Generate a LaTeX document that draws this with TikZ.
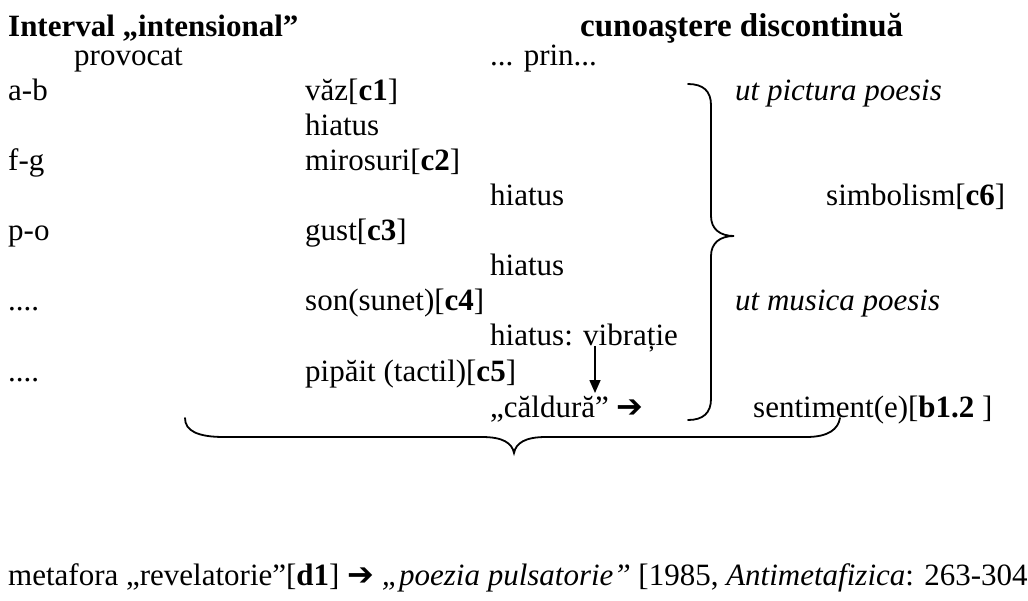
\documentclass[tikz,border=0pt]{standalone}
\usepackage{fontspec}
\setmainfont{Liberation Serif}
\newfontfamily\arrowfont{DejaVu Sans}
\usetikzlibrary{arrows.meta}
\newcommand{\bigarrow}{{\arrowfont\bfseries\fontsize{32}{34}\selectfont ➔}}
\begin{document}
\begin{tikzpicture}[x=1pt,y=-1pt,
  txt/.style={anchor=base west,inner sep=0pt,font=\fontsize{31}{36}\selectfont},
  ttl/.style={anchor=base west,inner sep=0pt,font=\fontsize{31}{36}\selectfont\bfseries},
  itx/.style={anchor=base west,inner sep=0pt,font=\fontsize{31}{36}\selectfont\itshape},
  bracestyle/.style={line width=1.8pt,line cap=round},
  vconn/.style={line width=1.6pt,-{Triangle[length=13pt,width=11pt]}}]
\useasboundingbox (0,0) rectangle (1028,600);
% titles
\node[ttl] (t1) at (8,36) {Interval „intensional”};
\node[ttl,font=\fontsize{33}{36}\selectfont\bfseries] (t2) at (580,36) {cunoaştere discontinuă};
\node[txt] (prov) at (74,65) {provocat};
\node[txt] (prin) at (490,65) {... prin...};
% left column
\node[txt] (ab) at (8,100) {a-b};
\node[txt] (fg) at (8,170) {f-g};
\node[txt] (po) at (8,240) {p-o};
\node[txt] (d1) at (8,310) {....};
\node[txt] (d2) at (8,381) {....};
% middle column
\node[txt] (c1) at (305,100) {văz[\textbf{c1}]};
\node[txt] (h1) at (305,135) {hiatus};
\node[txt] (c2) at (305,170) {mirosuri[\textbf{c2}]};
\node[txt] (c3) at (305,240) {gust[\textbf{c3}]};
\node[txt] (c4) at (305,310) {son(sunet)[\textbf{c4}]};
\node[txt] (c5) at (305,381) {pipăit (tactil)[\textbf{c5}]};
% second column
\node[txt] (h2) at (490,205) {hiatus};
\node[txt] (h3) at (490,275) {hiatus};
\node[txt] (h4) at (490,345) {hiatus: vibrație};
\node[txt] (cald) at (490,417) {„căldură” \bigarrow};
% right column
\node[itx] (utp) at (735,100) {ut pictura poesis};
\node[itx] (utm) at (735,310) {ut musica poesis};
\node[txt] (simb) at (826,205) {simbolism[\textbf{c6}]};
\node[txt] (sent) at (753,417) {sentiment(e)[\textbf{b1.2} ]};
% bottom line
\node[txt] (meta) at (8,585) {metafora „revelatorie”[\textbf{d1}] \bigarrow\ \textit{„poezia pulsatorie”} [1985, \textit{Antimetafizica}: 263-304};
% vertical arrow
\coordinate (vtop) at (595,346);
\coordinate (vbot) at (595,393);
\draw[vconn] (vtop) -- (vbot);
% right brace
\draw[bracestyle] (688,84) .. controls (703,84) and (711,91) .. (711,105)
  -- (711,216) .. controls (711,229) and (720,236) .. (734,236)
  .. controls (720,236) and (711,243) .. (711,256)
  -- (711,399) .. controls (711,413) and (703,420) .. (688,420);
% bottom brace
\draw[bracestyle] (185,418) .. controls (185,431) and (198,437) .. (224,437)
  -- (482,437) .. controls (503,437) and (512,443) .. (514,453)
  .. controls (516,443) and (525,437) .. (546,437)
  -- (806,437) .. controls (829,437) and (838,429) .. (840,418);
\end{tikzpicture}
\end{document}
